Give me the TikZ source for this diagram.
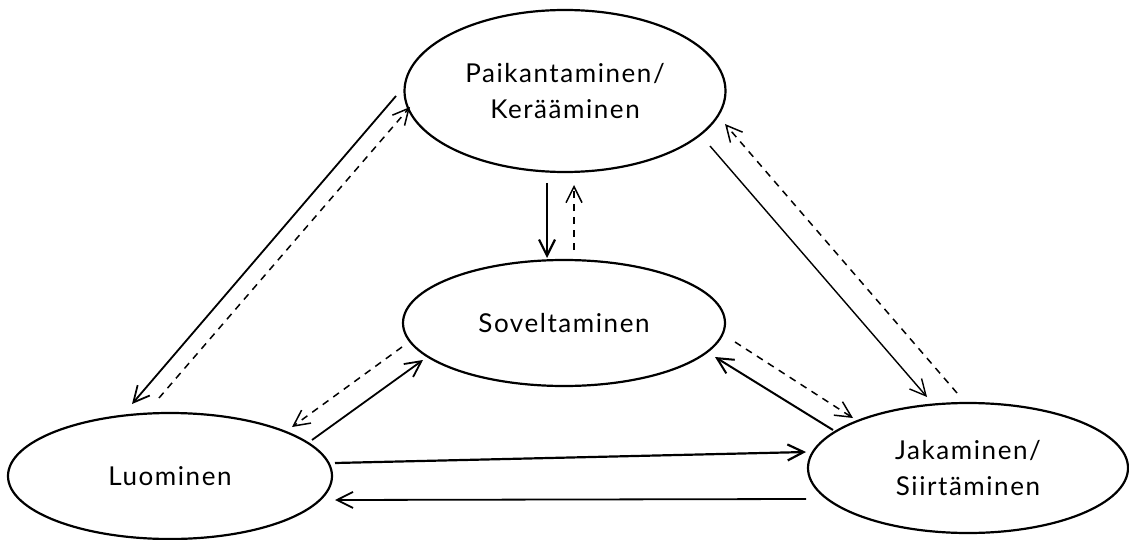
\documentclass[tikz,border=0pt]{standalone}
\usepackage{fontspec}
\setmainfont{Lato}[LetterSpace=6]
\usetikzlibrary{shapes.geometric,arrows.meta,calc}
\begin{document}
\begin{tikzpicture}[x=1pt,y=-1pt,
  ell/.style={ellipse, draw, line width=2.2pt, inner sep=0pt, align=center,
    font=\fontsize{26}{36}\selectfont},
  flow/.style={line width=1.8pt, -{Straight Barb[length=16pt,width=16pt]}},
  back/.style={flow, line width=1.5pt, dash pattern=on 7pt off 6pt}]
\useasboundingbox (0,0) rectangle (1129,540);

% the four activities
\node[ell, minimum width=321pt, minimum height=162pt] (T) at (565,91)
  {Paikantaminen/\\Kerääminen};
\node[ell, minimum width=322pt, minimum height=126pt] (M) at (564,323)
  {Soveltaminen};
\node[ell, minimum width=324pt, minimum height=126pt] (L) at (170,476)
  {Luominen};
\node[ell, minimum width=320pt, minimum height=130pt] (R) at (968,468)
  {Jakaminen/\\Siirtäminen};

% top <-> left
\draw[flow] ($(T)+(-169,5)$) -- ($(L)+(-38,-72)$);
\draw[back] ($(L)+(-11,-78)$) -- ($(T)+(-155,16)$);

% left <-> middle
\draw[flow] ($(L)+(142,-36)$) -- ($(M)+(-141,37)$);
\draw[back] ($(M)+(-162,24)$) -- ($(L)+(122,-49)$);

% left <-> right
\draw[flow, line width=2.2pt] ($(L)+(165,-13)$) -- ($(R)+(-162,-16)$);
\draw[flow] ($(R)+(-162,31)$) -- ($(L)+(165,24)$);

% top <-> middle
\draw[flow, line width=2.2pt] ($(T)+(-18,92)$) -- ($(M)+(-17,-65)$);
\draw[back] ($(M)+(10,-73)$) -- ($(T)+(9,94)$);

% top <-> right
\draw[flow, line width=1.4pt] ($(T)+(145,55)$) -- ($(R)+(-41,-71)$);
\draw[back] ($(R)+(-11,-75)$) -- ($(T)+(160,33)$);

% right <-> middle
\draw[flow, line width=2pt] ($(R)+(-135,-38)$) -- ($(M)+(151,34)$);
\draw[back] ($(M)+(171,19)$) -- ($(R)+(-115,-50)$);
\end{tikzpicture}
\end{document}
